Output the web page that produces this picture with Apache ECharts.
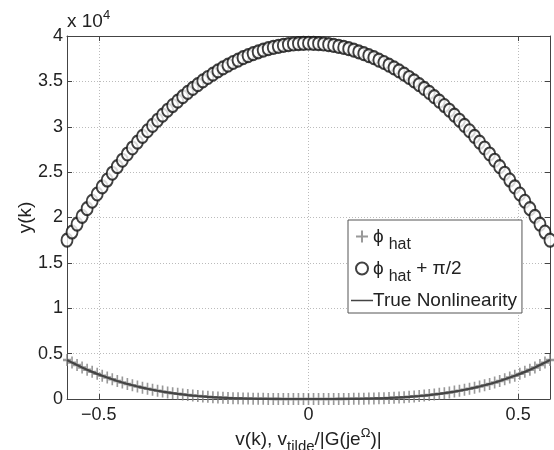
<!DOCTYPE html>
<html><head><meta charset="utf-8">
<script src="https://cdn.jsdelivr.net/npm/echarts@6/dist/echarts.min.js"></script>
<style>html,body{margin:0;padding:0;background:#fff}#c{width:554px;height:450px}</style>
</head><body><div id="c"></div>
<script>
// x sample positions (normalised input)
const xValues = [-0.576,-0.564,-0.552,-0.540,-0.528,-0.516,-0.504,-0.492,-0.480,-0.468,-0.456,-0.444,-0.432,-0.420,-0.408,-0.396,-0.384,-0.372,-0.360,-0.348,-0.336,-0.324,-0.312,-0.300,-0.288,-0.276,-0.264,-0.252,-0.240,-0.228,-0.216,-0.204,-0.192,-0.180,-0.168,-0.156,-0.144,-0.132,-0.120,-0.108,-0.096,-0.084,-0.072,-0.060,-0.048,-0.036,-0.024,-0.012,0.000,0.012,0.024,0.036,0.048,0.060,0.072,0.084,0.096,0.108,0.120,0.132,0.144,0.156,0.168,0.180,0.192,0.204,0.216,0.228,0.240,0.252,0.264,0.276,0.288,0.300,0.312,0.324,0.336,0.348,0.360,0.372,0.384,0.396,0.408,0.420,0.432,0.444,0.456,0.468,0.480,0.492,0.504,0.516,0.528,0.540,0.552,0.564,0.576];
// phi_hat + pi/2 (circles)
const phiHatPi2 = [17500,18400,19270,20130,20970,21790,22590,23370,24130,24880,25600,26310,27000,27660,28310,28940,29560,30150,30720,31280,31820,32340,32830,33310,33780,34220,34640,35050,35430,35800,36150,36480,36790,37080,37350,37610,37840,38060,38260,38440,38600,38740,38860,38960,39050,39120,39160,39190,39200,39190,39160,39120,39050,38960,38860,38740,38600,38440,38260,38060,37840,37610,37350,37080,36790,36480,36150,35800,35430,35050,34640,34220,33780,33310,32830,32340,31820,31280,30720,30150,29560,28940,28310,27660,27000,26310,25600,24880,24130,23370,22590,21790,20970,20130,19270,18400,17500];
// phi_hat (plus markers)
const phiHat = [4300,4010,3740,3480,3230,2990,2770,2560,2360,2170,1990,1820,1660,1520,1380,1250,1130,1020,910,815,726,644,569,500,437,379,328,281,239,202,169,140,114,93,74,58,44,33,24,17,12,7,4,2,1,0,0,0,0,0,0,0,1,2,4,7,12,17,24,33,44,58,74,93,114,140,169,202,239,281,328,379,437,500,569,644,726,815,910,1020,1130,1250,1380,1520,1660,1820,1990,2170,2360,2560,2770,2990,3230,3480,3740,4010,4300];
// true nonlinearity (line)
const trueNonlin = phiHat.slice();
const xTicks = [-0.5, 0, 0.5];

const pair = (ys) => xValues.map((x, i) => [x, ys[i]]);
const FONT = '"Liberation Sans", Arial, sans-serif';
const plusPath = 'path://M0,5L10,5M5,0L5,10';
const lineIcon = 'path://M0,0L0.02,0L0.02,0.02Z M0,5.3L22,5.3L22,6.7L0,6.7Z M21.98,12L22,12L22,11.98Z';

const chart = echarts.init(document.getElementById('c'));
chart.setOption({
  animation: false,
  backgroundColor: '#fff',
  textStyle: { fontFamily: FONT },
  grid: { left: 67, right: 4, top: 36, bottom: 51, outerBoundsMode: 'none', containLabel: false },
  xAxis: [{
    type: 'value', min: -0.576, max: 0.576,
    axisLine: { show: true, onZero: false, lineStyle: { color: '#444', width: 1 } },
    axisTick: { show: true, inside: true, length: 5, customValues: xTicks, lineStyle: { color: '#444' } },
    axisLabel: { customValues: xTicks, fontSize: 18, color: '#222', fontFamily: FONT, margin: 7,
      formatter: v => (v < 0 ? '\u2212' + Math.abs(v) : String(v)) },
    splitLine: { show: true, lineStyle: { color: '#bbb', type: [1, 2], width: 1 } },
    name: 'v(k), v{sub|tilde}/|G(je{sup|\u03A9})|',
    nameLocation: 'middle', nameGap: 26, nameMoveOverlap: false,
    nameTextStyle: { fontSize: 19, color: '#222', fontFamily: FONT,
      rich: { sub: { fontSize: 15, padding: [14, 0, 0, 0], color: '#222', fontFamily: FONT },
              sup: { fontSize: 13, padding: [0, 0, 12, 0], color: '#222', fontFamily: FONT } } }
  }, {
    type: 'value', min: -0.576, max: 0.576, position: 'top',
    axisLine: { show: true, onZero: false, lineStyle: { color: '#444', width: 1 } },
    axisTick: { show: true, inside: true, length: 5, customValues: xTicks, lineStyle: { color: '#444' } },
    axisLabel: { show: false }, splitLine: { show: false }
  }],
  yAxis: [{
    type: 'value', min: 0, max: 40000, interval: 5000,
    axisLine: { show: true, onZero: false, lineStyle: { color: '#444', width: 1 } },
    axisTick: { show: true, inside: true, length: 5, lineStyle: { color: '#444' } },
    axisLabel: { fontSize: 18, color: '#222', fontFamily: FONT, margin: 4,
      formatter: v => String(v / 10000) },
    splitLine: { show: true, lineStyle: { color: '#bbb', type: [1, 2], width: 1 } },
    name: 'y(k)', nameLocation: 'middle', nameGap: 32, nameRotate: 90, nameMoveOverlap: false,
    nameTextStyle: { fontSize: 19, color: '#222', fontFamily: FONT }
  }, {
    type: 'value', min: 0, max: 40000, interval: 5000, position: 'right',
    axisLine: { show: true, onZero: false, lineStyle: { color: '#444', width: 1 } },
    axisTick: { show: true, inside: true, length: 5, lineStyle: { color: '#444' } },
    axisLabel: { show: false }, splitLine: { show: false }
  }],
  legend: {
    orient: 'vertical', left: 348, top: 220,
    padding: [7, 5, 3, 3], itemGap: 6, itemWidth: 22, itemHeight: 12,
    backgroundColor: '#fff', borderColor: '#555', borderWidth: 1,
    data: [
      { name: 'phiHat', icon: plusPath },
      { name: 'phiHatPi2', icon: 'emptyCircle' },
      { name: 'True Nonlinearity', icon: lineIcon }
    ],
    formatter: n => n === 'phiHat' ? '\u03D5{sub|hat}' : n === 'phiHatPi2' ? '\u03D5{sub|hat} + \u03C0/2' : 'True Nonlinearity',
    textStyle: { fontSize: 19, color: '#222', fontFamily: FONT, padding: [0, 0, 0, -5],
      rich: { sub: { fontSize: 16, padding: [17, 0, 0, 5], color: '#222', fontFamily: FONT } } }
  },
  graphic: [{
    type: 'text', left: 67, top: 9,
    style: { text: 'x 10{sup|4}', font: '19px ' + FONT, fill: '#222',
      rich: { sup: { fontSize: 13, padding: [0, 0, 12, 0], fill: '#222', fontFamily: FONT } } }
  }],
  series: [{
    name: 'phiHatPi2', type: 'scatter', data: pair(phiHatPi2),
    symbol: 'emptyCircle', symbolSize: [11, 13],
    itemStyle: { color: '#111', borderColor: '#111', borderWidth: 1.4 }
  }, {
    name: 'phiHat', type: 'scatter', data: pair(phiHat),
    symbol: plusPath, symbolSize: [8, 12],
    itemStyle: { color: 'transparent', borderColor: '#808080', borderWidth: 2 }
  }, {
    name: 'True Nonlinearity', type: 'line', data: pair(trueNonlin),
    symbol: 'none', smooth: false,
    lineStyle: { color: '#444', width: 2.2 }, itemStyle: { color: '#444' }
  }]
});
</script></body></html>
